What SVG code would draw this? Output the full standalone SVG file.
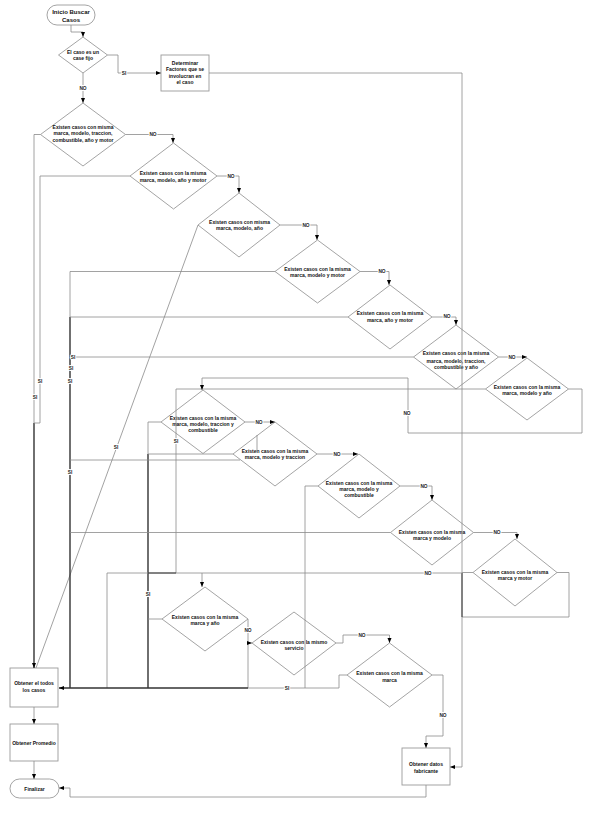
<svg xmlns="http://www.w3.org/2000/svg" width="591" height="813" viewBox="0 0 591 813">
<defs>
<marker id="arr" viewBox="0 0 10 10" refX="10" refY="5" markerWidth="5" markerHeight="5" markerUnits="userSpaceOnUse" orient="auto">
<path d="M0,1 L10,5 L0,9 z" fill="#000"/>
</marker>
<style>
.shape{fill:#fff;stroke:#9a9a9a;stroke-width:0.9}
.c{fill:none;stroke:#8a8a8a;stroke-width:0.8}
.k{fill:none;stroke:#333;stroke-width:1.4}
.t{font-family:"Liberation Sans",Arial,sans-serif;font-size:5px;font-weight:bold;text-anchor:middle;fill:#111}
.tt{font-family:"Liberation Sans",Arial,sans-serif;font-size:6px;font-weight:bold;text-anchor:middle;fill:#111}
.l{font-family:"Liberation Sans",Arial,sans-serif;font-size:4.8px;font-weight:bold;text-anchor:middle;fill:#222;stroke:#fff;stroke-width:2;paint-order:stroke}
</style>
</defs>
<rect width="591" height="813" fill="#fff"/>

<g id="start">
<rect class="shape" x="47" y="5" width="48" height="20" rx="10"/>
<text class="tt" x="71" y="14">Inicio Buscar</text>
<text class="tt" x="71" y="21.5">Casos</text>
</g>
<g id="d1">
<polygon class="shape" points="83,37 107.5,55 83,73 58.5,55"/>
<text class="t" x="83" y="53.8">El caso es un</text>
<text class="t" x="83" y="60">case fijo</text>
</g>
<g id="determinar">
<rect class="shape" x="161" y="55" width="48" height="36"/>
<text class="t" x="185" y="64.8">Determinar</text>
<text class="t" x="185" y="71">Factores que se</text>
<text class="t" x="185" y="77.6">involucran en</text>
<text class="t" x="185" y="83.8">el caso</text>
</g>
<g id="d2">
<polygon class="shape" points="83,103 125.5,134.5 83,166 40.5,134.5"/>
<text class="t" x="83" y="128.5">Existen casos con misma</text>
<text class="t" x="83" y="135">marca, modelo, traccion,</text>
<text class="t" x="83" y="141.8">combustible, año y  motor</text>
</g>
<g id="d3">
<polygon class="shape" points="173.5,143 217,176 173.5,209 130,176"/>
<text class="t" x="173" y="175.1">Existen casos con  la misma</text>
<text class="t" x="173" y="181.8">marca, modelo, año y  motor</text>
</g>
<g id="d4">
<polygon class="shape" points="239,193 280,225 239,257 198,225"/>
<text class="t" x="239.5" y="223.5">Existen casos con misma</text>
<text class="t" x="239.5" y="229.5">marca, modelo, año</text>
</g>
<g id="d5">
<polygon class="shape" points="317.5,240 360,271.5 317.5,303 275,271.5"/>
<text class="t" x="317.5" y="271.1">Existen casos con la misma</text>
<text class="t" x="317.5" y="276.8">marca, modelo y motor</text>
</g>
<g id="d6">
<polygon class="shape" points="390,285 432,317 390,349 348,317"/>
<text class="t" x="390" y="315.1">Existen casos con la misma</text>
<text class="t" x="390" y="321.8">marca, año y motor</text>
</g>
<g id="d7">
<polygon class="shape" points="456,325 498.5,357 456,389 413.5,357"/>
<text class="t" x="456" y="355.1">Existen casos con la misma</text>
<text class="t" x="456" y="362.5">marca, modelo, traccion,</text>
<text class="t" x="456" y="368.5">combustible y año</text>
</g>
<g id="d8">
<polygon class="shape" points="527,358 568.5,389 527,420 485.5,389"/>
<text class="t" x="527" y="388.5">Existen casos con la misma</text>
<text class="t" x="527" y="395.1">marca, modelo y año</text>
</g>
<g id="d9">
<polygon class="shape" points="203,390 245,422 203,453.5 161,422"/>
<text class="t" x="203" y="419.5">Existen casos con la misma</text>
<text class="t" x="203" y="425.8">marca, modelo, traccion y</text>
<text class="t" x="203" y="431.8">combustible</text>
</g>
<g id="d10">
<polygon class="shape" points="275,422 317,454 275,486 233,454"/>
<text class="t" x="275" y="452.5">Existen casos con la misma</text>
<text class="t" x="275" y="458.5">marca, modelo y traccion</text>
</g>
<g id="d11">
<polygon class="shape" points="359,454 400,486 359,518 318,486"/>
<text class="t" x="359" y="485.1">Existen casos con la misma</text>
<text class="t" x="359" y="491.1">marca, modelo y</text>
<text class="t" x="359" y="496.8">combustible</text>
</g>
<g id="d12">
<polygon class="shape" points="432,500 473.5,532.5 432,565 390.5,532.5"/>
<text class="t" x="432" y="533.5">Existen casos con la misma</text>
<text class="t" x="432" y="539.5">marca y modelo</text>
</g>
<g id="d13">
<polygon class="shape" points="515,539 557,572.5 515,606 473,572.5"/>
<text class="t" x="515" y="574.1">Existen casos con la misma</text>
<text class="t" x="515" y="580.1">marca y motor</text>
</g>
<g id="d14">
<polygon class="shape" points="205,587 248,619 205,651 162,619"/>
<text class="t" x="205" y="618.5">Existen casos con la misma</text>
<text class="t" x="205" y="624.5">marca y año</text>
</g>
<g id="d15">
<polygon class="shape" points="294,612 336,643 294,675 252,643"/>
<text class="t" x="294" y="644.1">Existen casos con la mismo</text>
<text class="t" x="294" y="649.5">servicio</text>
</g>
<g id="d16">
<polygon class="shape" points="389.5,643 432,675 389.5,707 347,675"/>
<text class="t" x="389.5" y="675.1">Existen casos con la misma</text>
<text class="t" x="389.5" y="681.8">marca</text>
</g>
<g id="todos">
<rect class="shape" x="10" y="668" width="48" height="39"/>
<text class="t" x="34" y="685.3">Obtener el todos</text>
<text class="t" x="34" y="692">los casos</text>
</g>
<g id="promedio">
<rect class="shape" x="10" y="724" width="48" height="37"/>
<text class="t" x="34" y="744.5">Obtener Promedio</text>
</g>
<g id="fabricante">
<rect class="shape" x="402" y="748" width="48" height="37"/>
<text class="t" x="426" y="766">Obtener datos</text>
<text class="t" x="426" y="772.5">fabricante</text>
</g>
<g id="fin">
<rect class="shape" x="10" y="779" width="49" height="19" rx="9.5"/>
<text class="tt" x="34.5" y="790.5" style="font-size:5px">Finalizar</text>
</g>

<g id="connectors">
<polyline class="c" points="71,25 71,32 83,32 83,37" marker-end="url(#arr)"/>
<polyline class="c" points="107.5,55 118,55 118,73 161,73" marker-end="url(#arr)"/>
<polyline class="c" points="209,73 462,73 462,767 450,767" marker-end="url(#arr)"/>
<polyline class="c" points="83,73 83,103" marker-end="url(#arr)"/>
<polyline class="c" points="125.5,134.5 173,134.5 173,143" marker-end="url(#arr)"/>
<polyline class="c" points="40.5,134.5 34,134.5 34,423"/>
<polyline class="k" points="34,423 34,668" marker-end="url(#arr)"/>
<polyline class="c" points="130,176 40,176 40,423 34,423"/>
<polyline class="c" points="217,176 239,176 239,193" marker-end="url(#arr)"/>
<line class="c" x1="198" y1="225" x2="36" y2="668"/>
<polyline class="c" points="280,225 317,225 317,240" marker-end="url(#arr)"/>
<polyline class="c" points="275,271.5 70,271.5 70,317"/>
<polyline class="k" points="70,317 70,688"/>
<polyline class="c" points="360,271.5 389,271.5 389,285" marker-end="url(#arr)"/>
<polyline class="c" points="348,317 70,317"/>
<polyline class="c" points="432,317 456,317 456,325" marker-end="url(#arr)"/>
<polyline class="c" points="413.5,357 70,357"/>
<polyline class="c" points="498.5,357 527,357" marker-end="url(#arr)"/>
<polyline class="c" points="485.5,389 176,389 176,573"/>
<polyline class="c" points="568.5,389 582,389 582,433 408,433 408,378 202,378 202,390" marker-end="url(#arr)"/>
<polyline class="c" points="161,422 148,422 148,454"/>
<polyline class="k" points="148,454 148,688"/>
<polyline class="c" points="245,422 275,422" marker-end="url(#arr)"/>
<polyline class="c" points="233,454 148,454"/>
<polyline class="c" points="70,460 240,460"/>
<line class="c" x1="257" y1="435" x2="257" y2="451"/>
<polyline class="c" points="317,454 358,454" marker-end="url(#arr)"/>
<polyline class="c" points="318,486 305,486 305,688"/>
<polyline class="c" points="400,486 432,486 432,500" marker-end="url(#arr)"/>
<polyline class="c" points="390.5,532.5 70,532.5"/>
<polyline class="c" points="473.5,532.5 517,532.5 517,539" marker-end="url(#arr)"/>
<polyline class="c" points="473,572.5 462,572.5"/>
<polyline class="c" points="557,572.5 569,572.5 569,617 462,617"/>
<line class="k" x1="462" y1="573" x2="462" y2="617" style="stroke-width:1"/>
<polyline class="c" points="462,573 107,573 107,688"/>
<line class="k" x1="148" y1="573" x2="176" y2="573" style="stroke-width:1"/>
<polyline class="c" points="202,573 202,587" marker-end="url(#arr)"/>
<polyline class="c" points="162,619 148,619"/>
<polyline class="c" points="248,619 248,688"/>
<polyline class="c" points="248,643 252,643" marker-end="url(#arr)"/>
<polyline class="c" points="336,643 343,643 343,635 389.5,635 389.5,643" marker-end="url(#arr)"/>
<polyline class="c" points="347,675 339,675 339,688 248,688"/>
<polyline class="k" points="248,688 59,688" marker-end="url(#arr)"/>
<polyline class="c" points="432,675 443,675 443,736 426,736 426,748" marker-end="url(#arr)"/>
<polyline class="c" points="426,785 426,797 70,797 70,788 59,788" marker-end="url(#arr)"/>
<polyline class="c" points="34,707 34,724" marker-end="url(#arr)"/>
<polyline class="c" points="34,761 34,779" marker-end="url(#arr)"/>

<text class="l" x="124" y="74.7">SI</text>
<text class="l" x="83" y="89.7">NO</text>
<text class="l" x="153" y="136.2">NO</text>
<text class="l" x="231" y="177.7">NO</text>
<text class="l" x="306" y="226.7">NO</text>
<text class="l" x="382" y="272.7">NO</text>
<text class="l" x="447" y="317.7">NO</text>
<text class="l" x="512" y="358.7">NO</text>
<text class="l" x="407" y="414.7">NO</text>
<text class="l" x="259" y="423.7">NO</text>
<text class="l" x="337" y="455.7">NO</text>
<text class="l" x="424" y="487.7">NO</text>
<text class="l" x="497" y="534.2">NO</text>
<text class="l" x="428" y="575.2">NO</text>
<text class="l" x="248" y="631.7">NO</text>
<text class="l" x="362" y="636.7">NO</text>
<text class="l" x="443" y="716.7">NO</text>
<text class="l" x="35" y="398.7">SI</text>
<text class="l" x="40" y="382.7">SI</text>
<text class="l" x="73" y="358.7">SI</text>
<text class="l" x="71" y="369.7">SI</text>
<text class="l" x="70" y="382.7">SI</text>
<text class="l" x="70" y="473.7">SI</text>
<text class="l" x="116" y="448.7">SI</text>
<text class="l" x="176" y="442.7">SI</text>
<text class="l" x="148" y="595.7">SI</text>
<text class="l" x="287" y="689.7">SI</text>
</g>
</svg>
